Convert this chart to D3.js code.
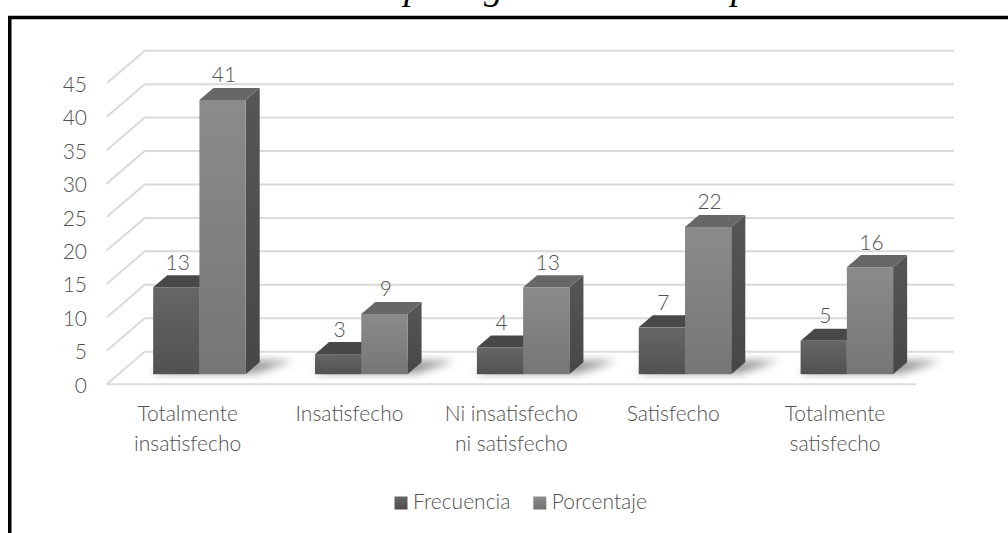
<!DOCTYPE html>
<html>
<head>
<meta charset="utf-8">
<script src="https://cdn.jsdelivr.net/npm/d3@7"></script>
<style>
  html, body { margin: 0; padding: 0; background: #fff; }
  svg { display: block; }
  text { font-family: Lato, "Open Sans", sans-serif; font-weight: 300; fill: #505050; }
</style>
</head>
<body>
<div id="chart"></div>
<script>
// ---- data ----
const categories = ["Totalmente insatisfecho", "Insatisfecho", "Ni insatisfecho ni satisfecho", "Satisfecho", "Totalmente satisfecho"];
const categoryLines = [["Totalmente", "insatisfecho"], ["Insatisfecho"], ["Ni insatisfecho", "ni satisfecho"], ["Satisfecho"], ["Totalmente", "satisfecho"]];
const seriesNames = ["Frecuencia", "Porcentaje"];
const frecuencia = [13, 3, 4, 7, 5];
const porcentaje = [41, 9, 13, 22, 16];
const yTicks = [0, 5, 10, 15, 20, 25, 30, 35, 40, 45];

// ---- layout ----
const W = 1008, H = 533;
const DX = 38, DY = 32.6;       // oblique offset for full depth
const Z0 = 0.31, Z1 = 0.68;     // bar depth range

const svg = d3.select("#chart").append("svg").attr("width", W).attr("height", H);
const defs = svg.append("defs");

// gradients
function vGrad(id, c1, c2) {
  const g = defs.append("linearGradient").attr("id", id).attr("x1", 0).attr("y1", 0).attr("x2", 0).attr("y2", 1);
  g.append("stop").attr("offset", "0%").attr("stop-color", c1);
  g.append("stop").attr("offset", "100%").attr("stop-color", c2);
}
vGrad("frontF", "#666666", "#515151");
vGrad("frontP", "#8b8b8b", "#767676");
vGrad("sideF", "#505050", "#444444");
vGrad("sideP", "#565656", "#474747");
vGrad("legF", "#666666", "#4c4c4c");
vGrad("legP", "#8e8e8e", "#6e6e6e");
const shadowFilter = defs.append("filter").attr("id", "blur").attr("x", "-50%").attr("y", "-50%").attr("width", "200%").attr("height", "200%");
shadowFilter.append("feGaussianBlur").attr("stdDeviation", 4);

// title (cut off at top, as in the reference)
const title = svg.append("text")
  .attr("y", -1)
  .style("font-family", "'Liberation Serif', serif")
  .style("font-style", "italic")
  .style("font-weight", 400)
  .style("font-size", "38px")
  .style("fill", "#000");
title.append("tspan").attr("x", 390).attr("text-anchor", "end").text("Nivel de atención");
title.append("tspan").attr("x", 404).text("por");
title.append("tspan").attr("x", 484).text("grado");
title.append("tspan").attr("x", 731).text("paciente");

// frame (top + left border)
svg.append("line").attr("x1", 8).attr("x2", W).attr("y1", 17.5).attr("y2", 17.5).attr("stroke", "#000").attr("stroke-width", 3.5);
svg.append("line").attr("x1", 9.75).attr("x2", 9.75).attr("y1", 16).attr("y2", H).attr("stroke", "#000").attr("stroke-width", 3.5);

// scales
const x0 = d3.scaleBand().domain(categories).range([106.7, 916]).padding(0);
const x1 = d3.scaleBand().domain(seriesNames).range([0, x0.bandwidth()]).paddingInner(0).paddingOuter(0.75);
const y = d3.scaleLinear().domain([0, 45]).range([384.3, 83.3]);
const P = (x, v, z) => [x + z * DX, y(v) - z * DY];
const xL = x0.range()[0], xR = x0.range()[1];

// walls / grid
const grid = svg.append("g").attr("stroke", "#dadada").attr("stroke-width", 2).attr("fill", "none");
yTicks.forEach(t => {
  const a = P(xL, t, 0), b = P(xL, t, 1), c = P(xR, t, 1);
  grid.append("path").attr("d", `M${a[0]},${a[1]}L${b[0]},${b[1]}L${c[0]},${c[1]}`);
});
{
  const a = P(xL, 0, 0), b = P(xR, 0, 0);
  grid.append("line").attr("x1", a[0]).attr("y1", a[1]).attr("x2", b[0]).attr("y2", b[1]);
}

// y tick labels
svg.append("g").selectAll("text").data(yTicks).join("text")
  .attr("x", 87).attr("y", d => y(d) + 8.5)
  .attr("text-anchor", "end")
  .style("font-size", "21px")
  .text(d => d);

// bars
const data = categories.map((c, i) => ({ cat: c, vals: [
  { s: "Frecuencia", v: frecuencia[i] },
  { s: "Porcentaje", v: porcentaje[i] }
] }));

const poly = pts => "M" + pts.map(p => p.join(",")).join("L") + "Z";

// floor shadows
const shadows = svg.append("g").attr("filter", "url(#blur)");
data.forEach(d => {
  const bx = x0(d.cat) + x1("Frecuencia");
  const ex = x0(d.cat) + x1("Porcentaje") + x1.bandwidth();
  shadows.append("path")
    .attr("d", poly([P(bx - 4, 0, Z0 + 0.03), P(ex + 8, 0, Z0 + 0.03), P(ex + 32, 0, Z1 + 0.04), P(bx + 12, 0, Z1 + 0.04)]))
    .attr("fill", "#000").attr("opacity", 0.42);
});

const bars = svg.append("g");
data.forEach(d => {
  d.vals.forEach(b => {
    const bx = x0(d.cat) + x1(b.s);
    const w = x1.bandwidth();
    const key = b.s === "Frecuencia" ? "F" : "P";
    const g = bars.append("g");
    // side face
    g.append("path")
      .attr("d", poly([P(bx + w, 0, Z0), P(bx + w, b.v, Z0), P(bx + w, b.v, Z1), P(bx + w, 0, Z1)]))
      .attr("fill", `url(#side${key})`);
    // top face
    g.append("path")
      .attr("d", poly([P(bx, b.v, Z0), P(bx + w, b.v, Z0), P(bx + w, b.v, Z1), P(bx, b.v, Z1)]))
      .attr("fill", key === "F" ? "#484848" : "#676767");
    // front face
    const tl = P(bx, b.v, Z0), bl = P(bx, 0, Z0);
    g.append("rect")
      .attr("x", tl[0]).attr("y", tl[1])
      .attr("width", w).attr("height", bl[1] - tl[1])
      .attr("fill", `url(#front${key})`);
    // value label
    const tb = P(bx, b.v, Z1);
    g.append("text")
      .attr("x", tl[0] + w / 2 + 1.5)
      .attr("y", tb[1] - 5.5)
      .attr("text-anchor", "middle")
      .style("font-size", "21px")
      .text(b.v);
  });
});

// category labels
svg.append("g").selectAll("text").data(categories).join("text")
  .attr("x", d => x0(d) + x0.bandwidth() / 2)
  .attr("y", 421)
  .attr("text-anchor", "middle")
  .style("font-size", "21px")
  .each(function(d, i) {
    categoryLines[i].forEach((line, j) => {
      d3.select(this).append("tspan")
        .attr("x", x0(d) + x0.bandwidth() / 2)
        .attr("dy", j === 0 ? 0 : 30)
        .text(line);
    });
  });

// legend
const legendX = [394.5, 533.3];
const leg = svg.append("g");
seriesNames.forEach((s, i) => {
  leg.append("rect").attr("x", legendX[i]).attr("y", 496.5).attr("width", 13).attr("height", 13)
    .attr("fill", i === 0 ? "url(#legF)" : "url(#legP)");
  leg.append("text").attr("x", legendX[i] + 18.5).attr("y", 509.3).style("font-size", "21px").text(s);
});
</script>
</body>
</html>
